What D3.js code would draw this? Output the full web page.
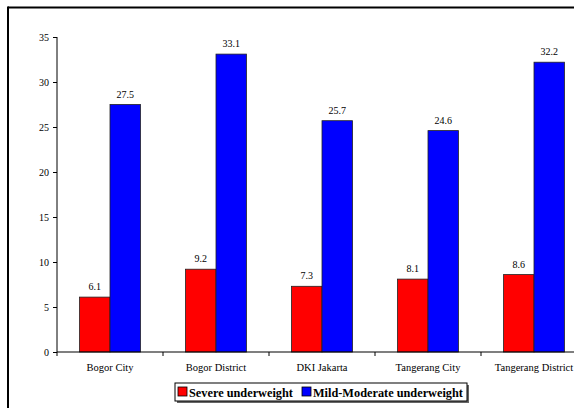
<!DOCTYPE html>
<html><head><meta charset="utf-8">
<script src="https://cdn.jsdelivr.net/npm/d3@7"></script>
<style>
html,body{margin:0;padding:0;background:#fff;}
svg{display:block;}
svg text{font-family:"Liberation Serif","Times New Roman",serif !important;}
</style></head>
<body>
<svg id="c" width="574" height="408"></svg>
<script>
const categories = ["Bogor City","Bogor District","DKI Jakarta","Tangerang City","Tangerang District"];
const seriesNames = ["Severe underweight","Mild-Moderate underweight"];
const severe = [6.1, 9.2, 7.3, 8.1, 8.6];
const mild = [27.5, 33.1, 25.7, 24.6, 32.2];
const yTicks = [0,5,10,15,20,25,30,35];
const colors = ["#ff0000","#0000ff"];

const svg = d3.select("#c");
// frame
svg.append("line").attr("x1",8).attr("x2",574).attr("y1",7.5).attr("y2",7.5).attr("stroke","#000").attr("stroke-width",2);
svg.append("line").attr("x1",8).attr("x2",8).attr("y1",6.5).attr("y2",408).attr("stroke","#000").attr("stroke-width",2);

const x0 = 57, x1 = 587, yTop = 37, yBot = 352;
const x = d3.scaleBand().domain(categories).range([x0,x1]).paddingInner(0.425).paddingOuter(0.2125);
const xs = d3.scaleBand().domain([0,1]).range([0,x.bandwidth()]);
const y = d3.scaleLinear().domain([0,35]).range([yBot,yTop]);

// y axis
const ya = svg.append("g").attr("transform",`translate(${x0},0)`)
  .call(d3.axisLeft(y).tickValues(yTicks).tickSize(4).tickPadding(4).tickFormat(d3.format("d")));
ya.attr("font-family","Liberation Serif, serif");
ya.select(".domain").attr("stroke","#000").attr("d",`M0,${yTop}V${yBot}`);
ya.selectAll("text").attr("font-size","10px").attr("fill","#000");

// bars
const data = categories.map((c,i)=>({c, v:[severe[i], mild[i]]}));
const g = svg.append("g");
data.forEach(d=>{
  d.v.forEach((v,j)=>{
    const bx = x(d.c)+xs(j);
    g.append("rect").attr("x",bx).attr("y",y(v)).attr("width",xs.bandwidth()).attr("height",yBot-y(v))
      .attr("fill",colors[j]).attr("stroke","#222").attr("stroke-width",0.8);
    g.append("text").attr("x",bx+xs.bandwidth()/2).attr("y",y(v)-7).attr("text-anchor","middle")
      .attr("font-size","10px").attr("fill","#000").text(v.toFixed(1));
  });
});

// x axis
const step = x.step();
const bounds = categories.map((c,i)=>x0+i*step);
const xa = svg.append("g");
xa.append("line").attr("x1",x0).attr("x2",574).attr("y1",yBot).attr("y2",yBot).attr("stroke","#000").attr("stroke-width",1.2);
bounds.forEach(b=>{
  xa.append("line").attr("x1",b).attr("x2",b).attr("y1",yBot).attr("y2",yBot+4).attr("stroke","#000");
});
categories.forEach(c=>{
  xa.append("text").attr("x",x(c)+x.bandwidth()/2).attr("y",371).attr("text-anchor","middle")
    .attr("font-size","10.5px").attr("fill","#000").text(c);
});

// legend
const lg = svg.append("g");
lg.append("rect").attr("x",177).attr("y",385).attr("width",292).attr("height",18).attr("fill","#666");
lg.append("rect").attr("x",175).attr("y",383).attr("width",292).attr("height",18).attr("fill","#fff").attr("stroke","#000").attr("stroke-width",1);
const items = [{x:178, tx:189},{x:302, tx:313}];
items.forEach((it,i)=>{
  lg.append("rect").attr("x",it.x).attr("y",387).attr("width",9).attr("height",9).attr("fill",colors[i]).attr("stroke","#000").attr("stroke-width",0.8);
  lg.append("text").attr("x",it.tx).attr("y",396.5).attr("font-size","12.3px").attr("font-weight","bold").attr("fill","#000").text(seriesNames[i]);
});
</script>
</body></html>
